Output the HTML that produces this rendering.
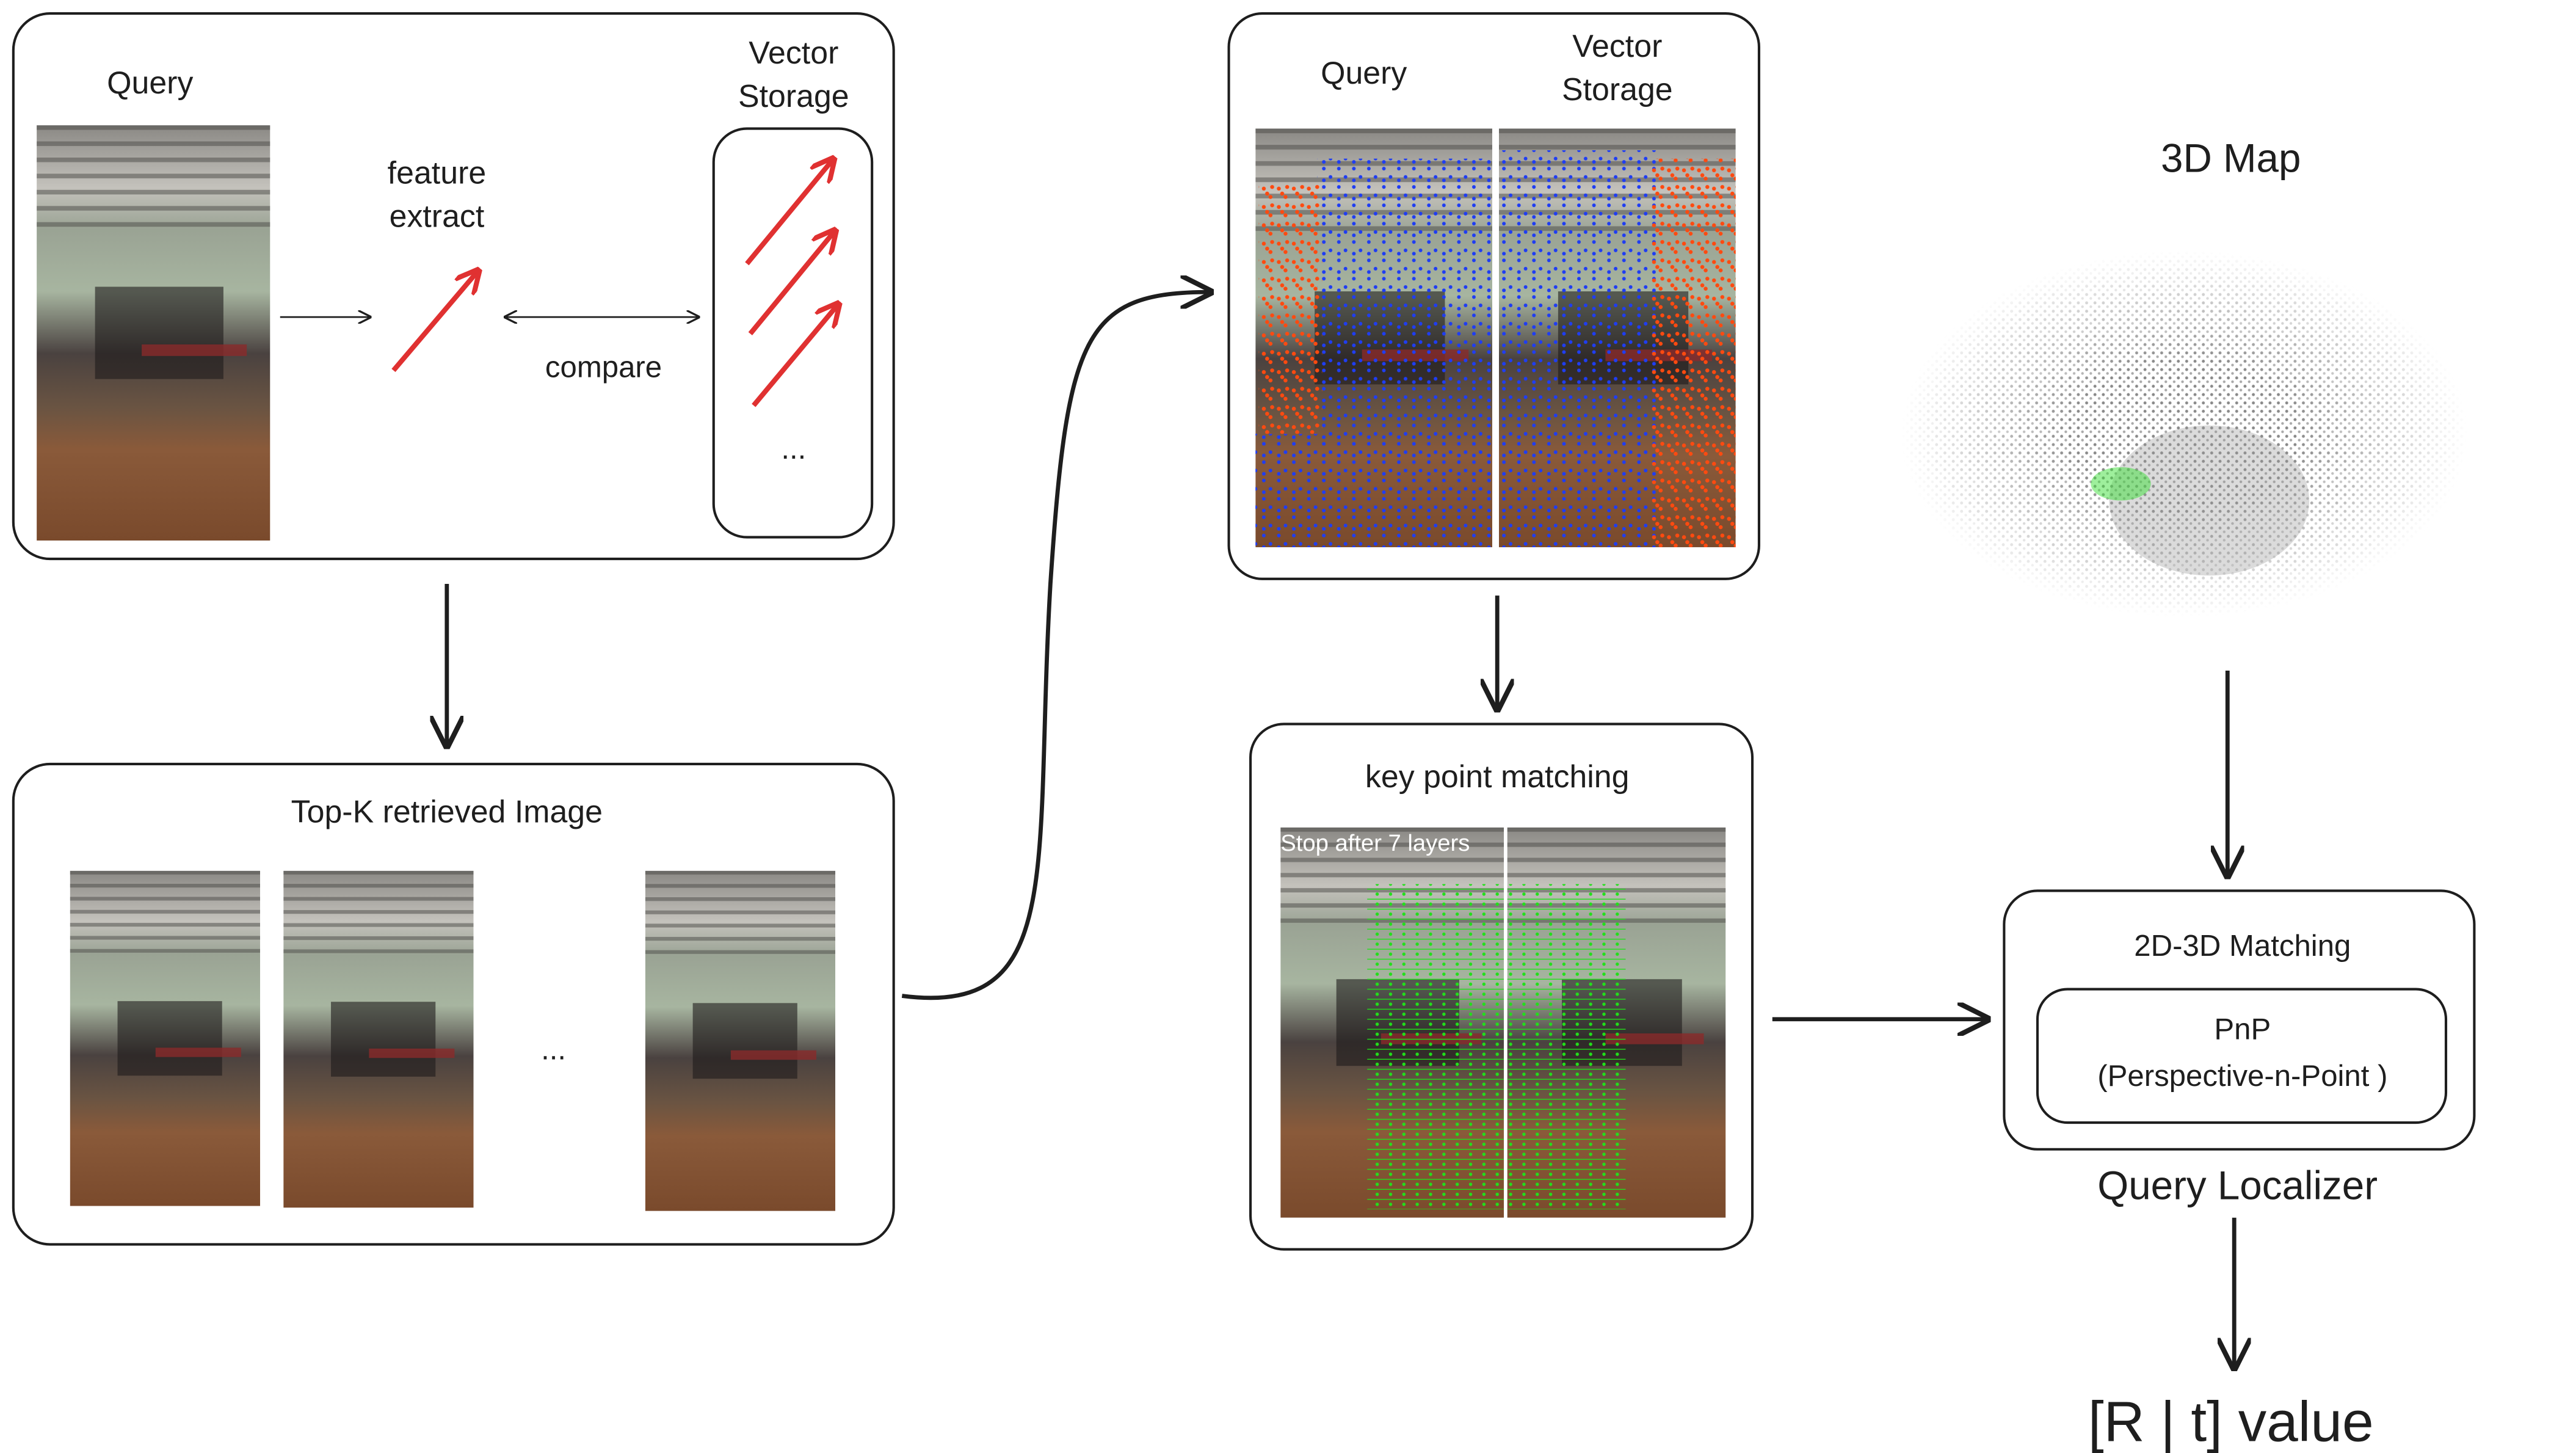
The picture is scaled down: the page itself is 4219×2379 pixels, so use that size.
<!DOCTYPE html>
<html><head><meta charset="utf-8"><style>
html,body{margin:0;padding:0;background:#fff;}
svg{display:block;}
text{font-family:"Liberation Sans",sans-serif;fill:#1e1e1e;}
</style></head><body>
<svg width="4219" height="2379" viewBox="0 0 1545 871" xmlns="http://www.w3.org/2000/svg">
<defs>
<linearGradient id="room" x1="0" y1="0" x2="0" y2="1">
<stop offset="0" stop-color="#8a8884"/><stop offset="0.15" stop-color="#c4c2bc"/><stop offset="0.25" stop-color="#9aa394"/>
<stop offset="0.4" stop-color="#a7b5a0"/><stop offset="0.55" stop-color="#4a4240"/><stop offset="0.68" stop-color="#6a5442"/>
<stop offset="0.78" stop-color="#8a5a3a"/><stop offset="1" stop-color="#7a4a2c"/></linearGradient>
<pattern id="ceil" width="100" height="7" patternUnits="userSpaceOnUse"><rect width="100" height="2" fill="#4a4946"/></pattern>
<symbol id="photo" viewBox="0 0 100 180" preserveAspectRatio="none">
<rect width="100" height="180" fill="url(#room)"/>
<rect width="100" height="45" fill="url(#ceil)" opacity="0.5"/>
<rect x="25" y="70" width="55" height="40" fill="#1e1a1a" opacity="0.6"/>
<rect x="45" y="95" width="45" height="5" fill="#8a2a2a" opacity="0.8"/>
</symbol>
<pattern id="blue" width="9" height="11" patternUnits="userSpaceOnUse">
<circle cx="2" cy="2" r="1.1" fill="#1f3df2"/><circle cx="6" cy="7" r="1.1" fill="#1f3df2"/><circle cx="2" cy="9" r="1.1" fill="#1f3df2"/></pattern>
<pattern id="red" width="9" height="11" patternUnits="userSpaceOnUse">
<circle cx="2" cy="3" r="1.2" fill="#ff4a10"/><circle cx="6" cy="8" r="1.2" fill="#ff4a10"/><circle cx="7" cy="2" r="1.2" fill="#ff4a10"/><circle cx="4" cy="6" r="1.2" fill="#ff4a10"/></pattern>
<pattern id="green" width="8" height="6" patternUnits="userSpaceOnUse">
<circle cx="2" cy="2" r="1" fill="#22e01a"/><line x1="0" y1="5" x2="8" y2="5" stroke="#22e01a" stroke-width="0.5"/></pattern>
<pattern id="cloud" width="5" height="5" patternUnits="userSpaceOnUse">
<circle cx="1.5" cy="1.5" r="0.9" fill="#8a8a8a"/><circle cx="4" cy="3.8" r="0.8" fill="#aaa"/></pattern>
<radialGradient id="fade"><stop offset="0.4" stop-color="#fff" stop-opacity="1"/><stop offset="1" stop-color="#fff" stop-opacity="0"/></radialGradient>
<mask id="cm"><ellipse cx="1310" cy="260" rx="170" ry="110" fill="url(#fade)"/></mask>
<marker id="ah" viewBox="0 0 10 10" refX="9" refY="5" markerWidth="8" markerHeight="8" orient="auto-start-reverse"><path d="M0,0 L10,5 L0,10" fill="none" stroke="#1e1e1e" stroke-width="1.5"/></marker>
<marker id="rh" viewBox="0 0 10 10" refX="9" refY="5" markerWidth="5" markerHeight="5" orient="auto"><path d="M0,0 L10,5 L0,10" fill="none" stroke="#e03131" stroke-width="2"/></marker>
</defs>

<g fill="none" stroke="#1e1e1e" stroke-width="1.5">
<rect x="8" y="8" width="528" height="327" rx="22"/>
<rect x="428" y="77" width="95" height="245" rx="20"/>
<rect x="8" y="458" width="528" height="288" rx="22"/>
<rect x="737" y="8" width="318" height="339" rx="20"/>
<rect x="750" y="434" width="301" height="315" rx="20"/>
<rect x="1202" y="534" width="282" height="155" rx="20"/>
<rect x="1222" y="593" width="245" height="80" rx="18"/>
</g>

<text x="90" y="56" font-size="19" text-anchor="middle">Query</text>
<use href="#photo" x="22" y="75" width="140" height="249"/>
<line x1="168" y1="190" x2="222" y2="190" stroke="#1e1e1e" stroke-width="1" marker-end="url(#ah)"/>
<text x="262" y="110" font-size="19" text-anchor="middle">feature</text>
<text x="262" y="136" font-size="19" text-anchor="middle">extract</text>
<line x1="236" y1="222" x2="287" y2="162" stroke="#e03131" stroke-width="3" marker-end="url(#rh)"/>
<line x1="303" y1="190" x2="419" y2="190" stroke="#1e1e1e" stroke-width="1" marker-start="url(#ah)" marker-end="url(#ah)"/>
<text x="362" y="226" font-size="18" text-anchor="middle">compare</text>
<text x="476" y="38" font-size="19" text-anchor="middle">Vector</text>
<text x="476" y="64" font-size="19" text-anchor="middle">Storage</text>
<g stroke="#e03131" stroke-width="3" marker-end="url(#rh)">
<line x1="448" y1="158" x2="500" y2="95"/>
<line x1="450" y1="200" x2="501" y2="138"/>
<line x1="452" y1="243" x2="503" y2="182"/></g>
<text x="476" y="275" font-size="18" text-anchor="middle">...</text>

<line x1="268" y1="350" x2="268" y2="447" stroke="#1e1e1e" stroke-width="2.5" marker-end="url(#ah)"/>
<text x="268" y="493" font-size="19" text-anchor="middle">Top-K retrieved Image</text>
<use href="#photo" x="42" y="522" width="114" height="201"/>
<use href="#photo" x="170" y="522" width="114" height="202"/>
<use href="#photo" x="387" y="522" width="114" height="204"/>
<text x="332" y="635" font-size="18" text-anchor="middle">...</text>

<path d="M541,597 C640,610 620,520 630,350 C640,200 650,175 726,175" fill="none" stroke="#1e1e1e" stroke-width="2.5" marker-end="url(#ah)"/>

<text x="818" y="50" font-size="19" text-anchor="middle">Query</text>
<text x="970" y="34" font-size="19" text-anchor="middle">Vector</text>
<text x="970" y="60" font-size="19" text-anchor="middle">Storage</text>
<use href="#photo" x="753" y="77" width="142" height="251"/>
<use href="#photo" x="899" y="77" width="142" height="251"/>
<rect x="790" y="95" width="105" height="233" fill="url(#blue)"/>
<rect x="753" y="260" width="40" height="68" fill="url(#blue)"/>
<rect x="899" y="90" width="95" height="238" fill="url(#blue)"/>
<rect x="755" y="110" width="38" height="150" fill="url(#red)"/>
<rect x="990" y="95" width="51" height="233" fill="url(#red)"/>

<line x1="898" y1="357" x2="898" y2="425" stroke="#1e1e1e" stroke-width="2.5" marker-end="url(#ah)"/>
<text x="898" y="472" font-size="19" text-anchor="middle">key point matching</text>
<use href="#photo" x="768" y="496" width="134" height="234"/>
<use href="#photo" x="904" y="496" width="131" height="234"/>
<rect x="820" y="530" width="155" height="195" fill="url(#green)"/>
<rect x="902" y="496" width="2" height="234" fill="#fff"/>
<text x="768" y="510" font-size="14" style="fill:#fff">Stop after 7 layers</text>

<line x1="1063" y1="611" x2="1192" y2="611" stroke="#1e1e1e" stroke-width="2.5" marker-end="url(#ah)"/>

<text x="1338" y="103" font-size="24" text-anchor="middle">3D Map</text>
<rect x="1130" y="140" width="410" height="250" fill="url(#cloud)" mask="url(#cm)"/>
<ellipse cx="1325" cy="300" rx="60" ry="45" fill="#999" opacity="0.35"/>
<ellipse cx="1272" cy="290" rx="18" ry="10" fill="#3ee03a" opacity="0.5"/>

<line x1="1336" y1="402" x2="1336" y2="525" stroke="#1e1e1e" stroke-width="2.5" marker-end="url(#ah)"/>
<text x="1345" y="573" font-size="18" text-anchor="middle">2D-3D Matching</text>
<text x="1345" y="623" font-size="18" text-anchor="middle">PnP</text>
<text x="1345" y="651" font-size="18" text-anchor="middle">(Perspective-n-Point )</text>
<text x="1342" y="719" font-size="24" text-anchor="middle">Query Localizer</text>
<line x1="1340" y1="730" x2="1340" y2="820" stroke="#1e1e1e" stroke-width="2.5" marker-end="url(#ah)"/>
<text x="1338" y="864" font-size="34" text-anchor="middle">[R | t] value</text>
</svg>
</body></html>
